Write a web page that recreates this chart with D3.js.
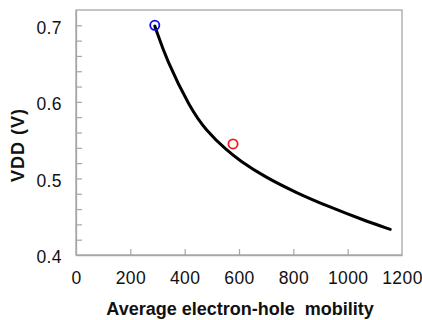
<!DOCTYPE html>
<html>
<head>
<meta charset="utf-8">
<script src="https://cdn.jsdelivr.net/npm/d3@7"></script>
<style>
  html, body { margin: 0; padding: 0; background: #fff; }
  svg { display: block; }
  text { font-family: "Liberation Sans", Arial, sans-serif; fill: #111; }
</style>
</head>
<body>
<svg id="chart" width="422" height="320"></svg>
<script>
// Supply voltage versus average electron-hole mobility
const mobility = [290, 334, 420, 480, 557, 604, 690, 812, 935, 1058, 1157];
const vdd      = [0.699, 0.654, 0.592, 0.562, 0.536, 0.523, 0.503, 0.481, 0.4625, 0.4455, 0.4335];

// Highlighted operating points
const markerMobility = [290, 578];
const markerVdd      = [0.700, 0.545];
const markerColor    = ["#0a0af0", "#f41a1a"];

const xTicks = [0, 200, 400, 600, 800, 1000, 1200];
const yTicks = [0.4, 0.5, 0.6, 0.7];
const yMinorTicks = d3.range(0.40, 0.7201, 0.02);

const xTitle = "Average electron-hole  mobility";
const yTitle = "VDD (V)";

const svg = d3.select("#chart");
const plot = { left: 76, top: 10, right: 402, bottom: 255 };

const x = d3.scaleLinear().domain([0, 1200]).range([plot.left, plot.right]);
const y = d3.scaleLinear().domain([0.4, 0.72]).range([plot.bottom, plot.top]);

const frameColor = "#a6a6a6";
const labelFont = "'Liberation Sans', Arial, sans-serif";

// Plot frame
svg.append("rect")
  .attr("x", plot.left).attr("y", plot.top)
  .attr("width", plot.right - plot.left).attr("height", plot.bottom - plot.top)
  .attr("fill", "none").attr("stroke", frameColor).attr("stroke-width", 1.3);

// Bottom axis: inward ticks, labels below
const xAxis = d3.axisBottom(x).tickValues(xTicks).tickSizeInner(-6).tickSizeOuter(0)
  .tickPadding(17).tickFormat(d3.format("d"));
const gx = svg.append("g").attr("transform", `translate(0,${plot.bottom})`).call(xAxis);
gx.select(".domain").attr("stroke", frameColor).attr("stroke-width", 1.3);
gx.selectAll(".tick line").attr("stroke", frameColor).attr("stroke-width", 1.2)
  .filter(d => d === 0 || d === 1200).remove();
gx.selectAll(".tick text").attr("font-size", 17.5).attr("letter-spacing", 0.4)
  .style("font-family", labelFont).attr("fill", "#111");

// Left axis: minor inward ticks every 0.02, labels at 0.1 steps
const yAxisMinor = d3.axisLeft(y).tickValues(yMinorTicks).tickSizeInner(-6).tickSizeOuter(0).tickFormat("");
const gyMinor = svg.append("g").attr("transform", `translate(${plot.left},0)`).call(yAxisMinor);
gyMinor.select(".domain").attr("stroke", frameColor).attr("stroke-width", 1.3);
gyMinor.selectAll(".tick line").attr("stroke", frameColor).attr("stroke-width", 1.2)
  .filter(d => Math.abs(d - 0.4) < 1e-6 || Math.abs(d - 0.72) < 1e-6).remove();

const yAxis = d3.axisLeft(y).tickValues(yTicks).tickSize(0).tickPadding(14).tickFormat(d3.format(".1f"));
const gy = svg.append("g").attr("transform", `translate(${plot.left},0)`).call(yAxis);
gy.select(".domain").remove();
gy.selectAll(".tick text").attr("font-size", 17.5).attr("letter-spacing", 0.4)
  .style("font-family", labelFont).attr("fill", "#111")
  .attr("dy", "0.45em");

// Curve
const line = d3.line()
  .x((d, i) => x(mobility[i]))
  .y((d, i) => y(vdd[i]))
  .curve(d3.curveBasis);
svg.append("path")
  .datum(mobility)
  .attr("d", line)
  .attr("fill", "none")
  .attr("stroke", "#000")
  .attr("stroke-width", 3)
  .attr("stroke-linecap", "round");

// Markers
svg.selectAll("circle.marker")
  .data(markerMobility)
  .join("circle")
  .attr("class", "marker")
  .attr("cx", (d) => x(d))
  .attr("cy", (d, i) => y(markerVdd[i]))
  .attr("r", 4.6)
  .attr("fill", "none")
  .attr("stroke", (d, i) => markerColor[i])
  .attr("stroke-width", 1.8);

// Axis titles
svg.append("text")
  .attr("x", (plot.left + plot.right) / 2 + 1)
  .attr("y", 315)
  .attr("text-anchor", "middle")
  .attr("font-size", 18)
  .attr("font-weight", "bold")
  .attr("xml:space", "preserve")
  .style("white-space", "pre")
  .text(xTitle);

svg.append("text")
  .attr("transform", "translate(23.5,145) rotate(-90)")
  .attr("text-anchor", "middle")
  .attr("font-size", 18)
  .attr("font-weight", "bold")
  .attr("letter-spacing", 1)
  .text(yTitle);
</script>
</body>
</html>
